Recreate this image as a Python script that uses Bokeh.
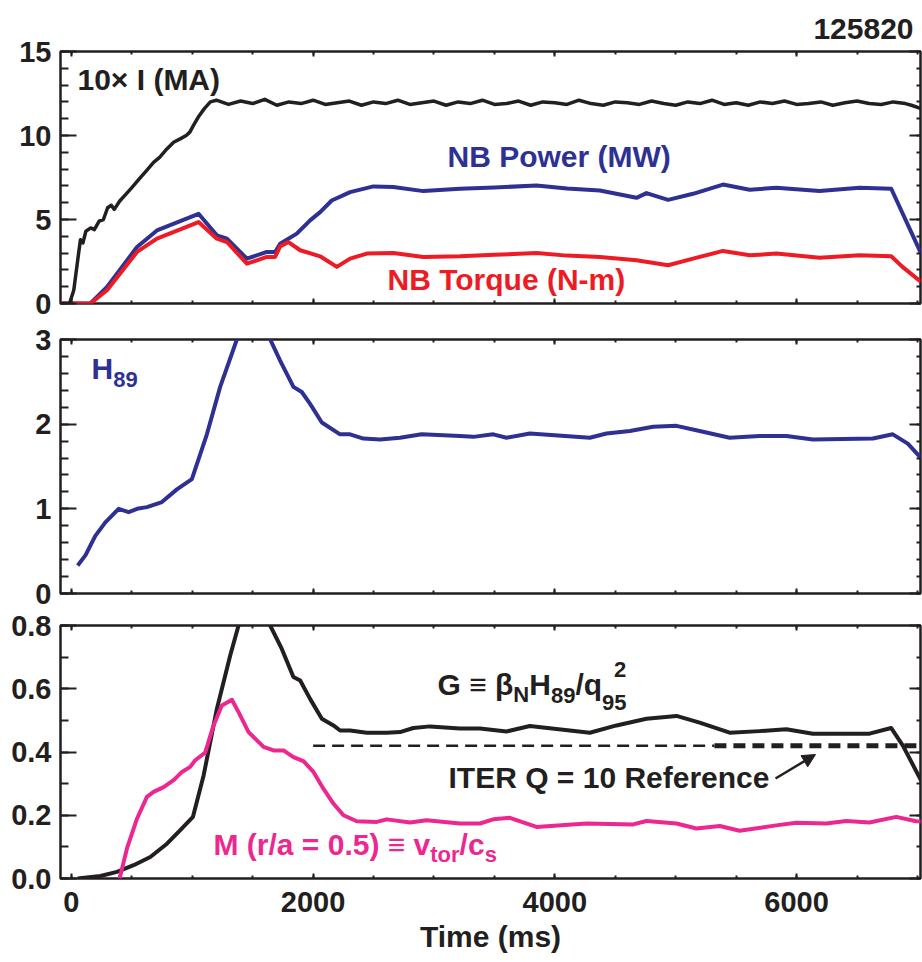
from bokeh.plotting import figure
from bokeh.layouts import column
from bokeh.models import (FixedTicker, LinearAxis, Range1d, Label, Arrow,
                          NormalHead, PrintfTickFormatter, CustomJSTickFormatter)
from bokeh.embed import file_html
from bokeh.resources import INLINE

# ---------------- data ----------------
I_TIME = [-90, -15, 20, 60, 75, 95, 120, 160, 190, 230,
          265, 300, 330, 355, 400, 450, 500, 560, 620, 680,
          730, 790, 846, 900, 950, 980, 1010, 1050, 1100, 1150,
          1200, 1300, 1400, 1500, 1600, 1700, 1800, 1900, 2000, 2100,
          2200, 2300, 2400, 2500, 2600, 2700, 2800, 2900, 3000, 3100,
          3200, 3300, 3400, 3500, 3600, 3700, 3800, 3900, 4000, 4100,
          4200, 4300, 4400, 4500, 4600, 4700, 4800, 4900, 5000, 5100,
          5200, 5300, 5400, 5500, 5600, 5700, 5800, 5900, 6000, 6100,
          6200, 6300, 6400, 6500, 6600, 6700, 6800, 6900, 6950, 7030]
I_MA10 = [0, 0, 0.8, 3.0, 3.8, 3.6, 4.3, 4.5, 4.4, 4.9,
          5.0, 5.7, 5.85, 5.6, 6.1, 6.5, 6.9, 7.4, 7.9, 8.4,
          8.7, 9.2, 9.6, 9.8, 10.0, 10.2, 10.6, 11.1, 11.6, 12.0,
          12.1, 11.85, 12.05, 11.9, 12.15, 11.8, 12.0, 11.9, 12.1, 11.85,
          11.95, 12.05, 11.8, 12.0, 11.9, 12.1, 11.85, 11.95, 12.05, 11.8,
          12.0, 11.9, 12.1, 11.85, 11.9, 12.05, 11.8, 12.0, 11.95, 11.85,
          12.1, 11.9, 11.8, 12.0, 11.95, 11.85, 12.05, 11.9, 11.8, 12.0,
          11.9, 12.1, 11.85, 11.95, 11.8, 12.0, 11.9, 12.05, 11.85, 11.9,
          12.0, 11.8, 11.95, 12.05, 11.9, 11.85, 12.0, 11.9, 11.8, 11.6]

PNB_TIME = [-90, 157, 295, 543, 708, 1052, 1204, 1287, 1452, 1617,
            1686, 1727, 1865, 1975, 2058, 2154, 2306, 2499, 2664, 2912,
            3215, 3500, 3848, 4100, 4372, 4675, 4758, 4937, 5143, 5391,
            5612, 5832, 6190, 6521, 6783, 7030]
PNB_MW = [0, 0, 0.99, 3.36, 4.35, 5.34, 4.06, 3.86, 2.67, 3.07,
          3.07, 3.56, 4.16, 4.95, 5.44, 6.13, 6.63, 6.97, 6.93, 6.69,
          6.83, 6.9, 7.03, 6.85, 6.73, 6.29, 6.57, 6.17, 6.53, 7.08,
          6.77, 6.89, 6.69, 6.89, 6.83, 2.97]

TQ_TIME = [-90, 157, 295, 543, 708, 1052, 1204, 1287, 1452, 1617,
           1686, 1727, 1796, 1893, 2058, 2196, 2306, 2444, 2664, 2912,
           3215, 3500, 3848, 4100, 4372, 4675, 4937, 5143, 5391, 5612,
           5832, 6190, 6521, 6783, 6876, 7030]
TQ_NM = [0, 0, 0.79, 3.07, 3.86, 4.85, 3.86, 3.66, 2.37, 2.77,
         2.77, 3.4, 3.66, 3.17, 2.81, 2.18, 2.67, 2.97, 3.0, 2.77,
         2.81, 2.9, 3.0, 2.85, 2.77, 2.57, 2.28, 2.67, 3.13, 2.87,
         2.97, 2.73, 2.87, 2.81, 2.18, 1.29]

H_TIME = [52, 116, 198, 281, 391, 474, 543, 625, 749, 873,
          997, 1121, 1231, 1369, 1480, 1645, 1727, 1837, 1906, 1975,
          2072, 2223, 2306, 2416, 2554, 2719, 2898, 3215, 3325, 3490,
          3600, 3793, 4289, 4427, 4620, 4813, 5006, 5198, 5446, 5694,
          5915, 6135, 6631, 6796, 6920, 7030]
H89 = [0.33, 0.45, 0.68, 0.84, 1.0, 0.96, 1.0, 1.02, 1.08, 1.23,
       1.35, 1.88, 2.44, 3.0, 3.45, 3.0, 2.75, 2.44, 2.38, 2.24,
       2.02, 1.88, 1.88, 1.83, 1.82, 1.84, 1.88, 1.86, 1.85, 1.88,
       1.84, 1.89, 1.84, 1.89, 1.92, 1.97, 1.98, 1.92, 1.84, 1.86,
       1.86, 1.82, 1.83, 1.88, 1.77, 1.60]

G_TIME = [52, 240, 377, 515, 653, 791, 901, 1006, 1094, 1204,
          1314, 1383, 1500, 1645, 1741, 1837, 1893, 1975, 2072, 2168,
          2223, 2306, 2444, 2609, 2719, 2829, 2967, 3215, 3380, 3600,
          3793, 4289, 4510, 4758, 5006, 5198, 5446, 5694, 5915, 6135,
          6603, 6782, 6878, 7030]
G = [0.0, 0.008, 0.021, 0.042, 0.068, 0.11, 0.153, 0.195, 0.326, 0.537,
     0.705, 0.8, 0.93, 0.8, 0.726, 0.637, 0.626, 0.568, 0.505, 0.484,
     0.468, 0.468, 0.461, 0.461, 0.463, 0.476, 0.481, 0.474, 0.474, 0.465,
     0.482, 0.461, 0.484, 0.505, 0.514, 0.493, 0.461, 0.466, 0.472, 0.458,
     0.458, 0.476, 0.421, 0.31]

M_TIME = [399, 460, 543, 625, 680, 763, 846, 915, 983, 1025,
          1107, 1176, 1245, 1328, 1383, 1466, 1590, 1672, 1755, 1837,
          1920, 2003, 2085, 2168, 2251, 2361, 2526, 2609, 2802, 2939,
          3215, 3380, 3490, 3628, 3848, 4262, 4648, 4758, 5006, 5171,
          5364, 5529, 5832, 5997, 6245, 6410, 6603, 6824, 6989, 7030]
MACH = [0.0, 0.095, 0.189, 0.258, 0.274, 0.289, 0.311, 0.337, 0.353, 0.374,
        0.398, 0.484, 0.547, 0.565, 0.526, 0.463, 0.416, 0.405, 0.405, 0.384,
        0.371, 0.337, 0.284, 0.237, 0.2, 0.181, 0.179, 0.187, 0.177, 0.184,
        0.174, 0.174, 0.187, 0.192, 0.163, 0.174, 0.171, 0.182, 0.174, 0.158,
        0.166, 0.151, 0.168, 0.176, 0.174, 0.182, 0.177, 0.195, 0.181, 0.18]

ITER_G = 0.42
ITER_THIN_T = [2000, 5320]
ITER_THICK_T = [5320, 7030]

X_MAJOR = [0, 2000, 4000, 6000]
X_MINOR = [0, 500, 1000, 1500, 2000, 2500, 3000, 3500, 4000, 4500,
           5000, 5500, 6000, 6500, 7000]
Y1_MAJOR = [0, 5, 10, 15]
Y1_MINOR = [0, 1, 2, 3, 4, 5, 6, 7, 8, 9, 10, 11, 12, 13, 14, 15]
Y2_MAJOR = [0, 1, 2, 3]
Y2_MINOR = [0, 0.2, 0.4, 0.6, 0.8, 1.0, 1.2, 1.4, 1.6, 1.8, 2.0, 2.2, 2.4, 2.6, 2.8, 3.0]
Y3_MAJOR = [0, 0.2, 0.4, 0.6, 0.8]
Y3_MINOR = [0, 0.1, 0.2, 0.3, 0.4, 0.5, 0.6, 0.7, 0.8]

SHOT = "125820"

# ---------------- style ----------------
FONT = "Liberation Sans"
INK = "#231f20"
BLUE = "#2e3192"
RED = "#ed1c24"
MAGENTA = "#ec2890"
LW = 4
BIG = 30
SUB = 22
XR = (-90, 7025)
FRAME_L, FRAME_R = 60, 920
LIFT = 11   # pixels: baseline correction for Label placement

# approximate advance widths (1/1000 em) of Liberation Sans Bold, for placing
# the pieces of the composite labels next to each other
ADV = {' ': 278, '(': 333, ')': 333, '/': 278, '=': 584, '.': 278, '-': 333,
       '\u00d7': 584, '\u2261': 584, '\u03b2': 611, 'A': 722, 'B': 722,
       'G': 778, 'H': 722, 'I': 278, 'M': 833, 'N': 722, 'a': 556, 'c': 556,
       'o': 611, 'q': 611, 'r': 389, 's': 556, 't': 333, 'v': 556}


def adv(s, size):
    return sum(ADV.get(ch, 556) for ch in s) * size / 1000.0


def tx(px):
    return XR[0] + (px - FRAME_L) * (XR[1] - XR[0]) / (FRAME_R - FRAME_L)


def make_fig(height, yr, top, bottom):
    p = figure(width=922, height=height, x_range=Range1d(*XR),
               y_range=Range1d(*yr), output_backend="svg", toolbar_location=None,
               min_border_left=FRAME_L, min_border_right=922 - FRAME_R,
               min_border_top=top, min_border_bottom=bottom,
               x_axis_location=None, y_axis_location=None)
    p.grid.visible = False
    p.outline_line_color = INK
    p.outline_line_width = 2.5
    return p


BLANK = CustomJSTickFormatter(code="return ''")


def axis(p, place, ticker, tin, tmin, labels=False, fmt=None):
    ax = LinearAxis(ticker=ticker)
    ax.axis_line_color = None
    ax.major_tick_in = tin
    ax.major_tick_out = 0
    ax.minor_tick_in = tmin
    ax.minor_tick_out = 0
    ax.major_tick_line_width = 2
    ax.minor_tick_line_width = 2
    ax.major_tick_line_color = INK
    ax.minor_tick_line_color = INK
    if labels:
        ax.major_label_text_font = FONT
        ax.major_label_text_font_style = "bold"
        ax.major_label_text_font_size = "29px"
        ax.major_label_text_color = INK
        if fmt is not None:
            ax.formatter = fmt
    else:
        ax.formatter = BLANK
        ax.major_label_standoff = 0
    p.add_layout(ax, place)
    return ax


def frame_axes(p, ymaj, ymin, fmt=None, xlabels=False):
    xt = FixedTicker(ticks=X_MAJOR, minor_ticks=X_MINOR)
    yt = FixedTicker(ticks=ymaj, minor_ticks=ymin)
    ly = axis(p, "left", yt, 16, 8, labels=True, fmt=fmt)
    ly.major_label_standoff = 9
    axis(p, "right", yt, 11, 4)
    axis(p, "above", xt, 5, 3)
    return axis(p, "below", xt, 5, 3, labels=xlabels)


def run(p, ymap, px0, base_py, pieces, color=INK):
    """Place text pieces one after the other; pieces = (text, size, dy_px)."""
    x = px0
    starts = []
    for s, size, dy in pieces:
        starts.append(x)
        p.add_layout(Label(x=tx(x), y=ymap(base_py + dy - LIFT), text=s,
                           text_color=color, text_font=FONT,
                           text_font_style="bold", text_font_size=f"{size}px",
                           text_align="left", text_baseline="alphabetic"))
        x += adv(s, size)
    return starts


# ---------------- panel 1 ----------------
p1 = make_fig(321, (0, 15), 51, 18)
y1 = lambda py: (303 - py) * 15 / 252.0
frame_axes(p1, Y1_MAJOR, Y1_MINOR)
p1.line(PNB_TIME, PNB_MW, line_color=BLUE, line_width=LW, line_join="round")
p1.line(TQ_TIME, TQ_NM, line_color=RED, line_width=LW, line_join="round")
p1.line(I_TIME, I_MA10, line_color=INK, line_width=3.5, line_join="round")
run(p1, y1, 77, 90, [("10\u00d7 I (MA)", BIG, 0)])
run(p1, y1, 447, 167, [("NB Power (MW)", BIG, 0)], BLUE)
run(p1, y1, 387, 290, [("NB Torque (N-m)", BIG, 0)], RED)
p1.title.text = SHOT
p1.title.align = "right"
p1.title.text_font = FONT
p1.title.text_font_style = "bold"
p1.title.text_font_size = "30px"
p1.title.text_color = INK
p1.title.offset = 7
p1.title.standoff = 25

# ---------------- panel 2 ----------------
p2 = make_fig(289, (0, 3), 18, 17)
y2 = lambda py: (593 - py) * 3 / 254.0
frame_axes(p2, Y2_MAJOR, Y2_MINOR)
p2.line(H_TIME, H89, line_color=BLUE, line_width=LW, line_join="round")
run(p2, y2, 91, 379, [("H", BIG, 0), ("89", SUB, 11)], BLUE)

# ---------------- panel 3 ----------------
p3 = make_fig(352, (0, 0.8), 15, 84)
y3 = lambda py: (880 - py) * 0.8 / 253.0
bx = frame_axes(p3, Y3_MAJOR, Y3_MINOR, fmt=PrintfTickFormatter(format="%.1f"),
                xlabels=True)
bx.major_label_standoff = 13
bx.axis_label = "Time (ms)"
bx.axis_label_text_font = FONT
bx.axis_label_text_font_style = "bold"
bx.axis_label_text_font_size = "30px"
bx.axis_label_text_color = INK
bx.axis_label_standoff = 5

p3.line(ITER_THIN_T, [ITER_G, ITER_G], line_color=INK, line_width=2.5,
        line_dash="12 7")
p3.line(ITER_THICK_T, [ITER_G, ITER_G], line_color=INK, line_width=5,
        line_dash="12 7")
p3.line(G_TIME, G, line_color=INK, line_width=LW, line_join="round")
p3.line(M_TIME, MACH, line_color=MAGENTA, line_width=LW, line_join="round")

gs = run(p3, y3, 437, 697, [("G \u2261 \u03b2", BIG, 0), ("N", SUB, 10),
                            ("H", BIG, 0), ("89", SUB, 11), ("/q", BIG, 0),
                            ("95", SUB, 18)])
run(p3, y3, gs[-1] + 12, 682, [("2", SUB, 0)])
run(p3, y3, 448, 790, [("ITER Q = 10 Reference", BIG, 0)])
run(p3, y3, 213, 857, [("M (r/a = 0.5) \u2261 v", BIG, 0), ("tor", SUB, 10),
                       ("/c", BIG, 0), ("s", SUB, 10)], MAGENTA)
p3.add_layout(Arrow(end=NormalHead(size=13, fill_color=INK, line_color=INK),
                    x_start=tx(775), y_start=y3(780), x_end=tx(815), y_end=y3(756),
                    line_color=INK, line_width=2.5))

layout = column(p1, p2, p3, spacing=0)
open("out.html", "w").write(file_html(layout, INLINE))
